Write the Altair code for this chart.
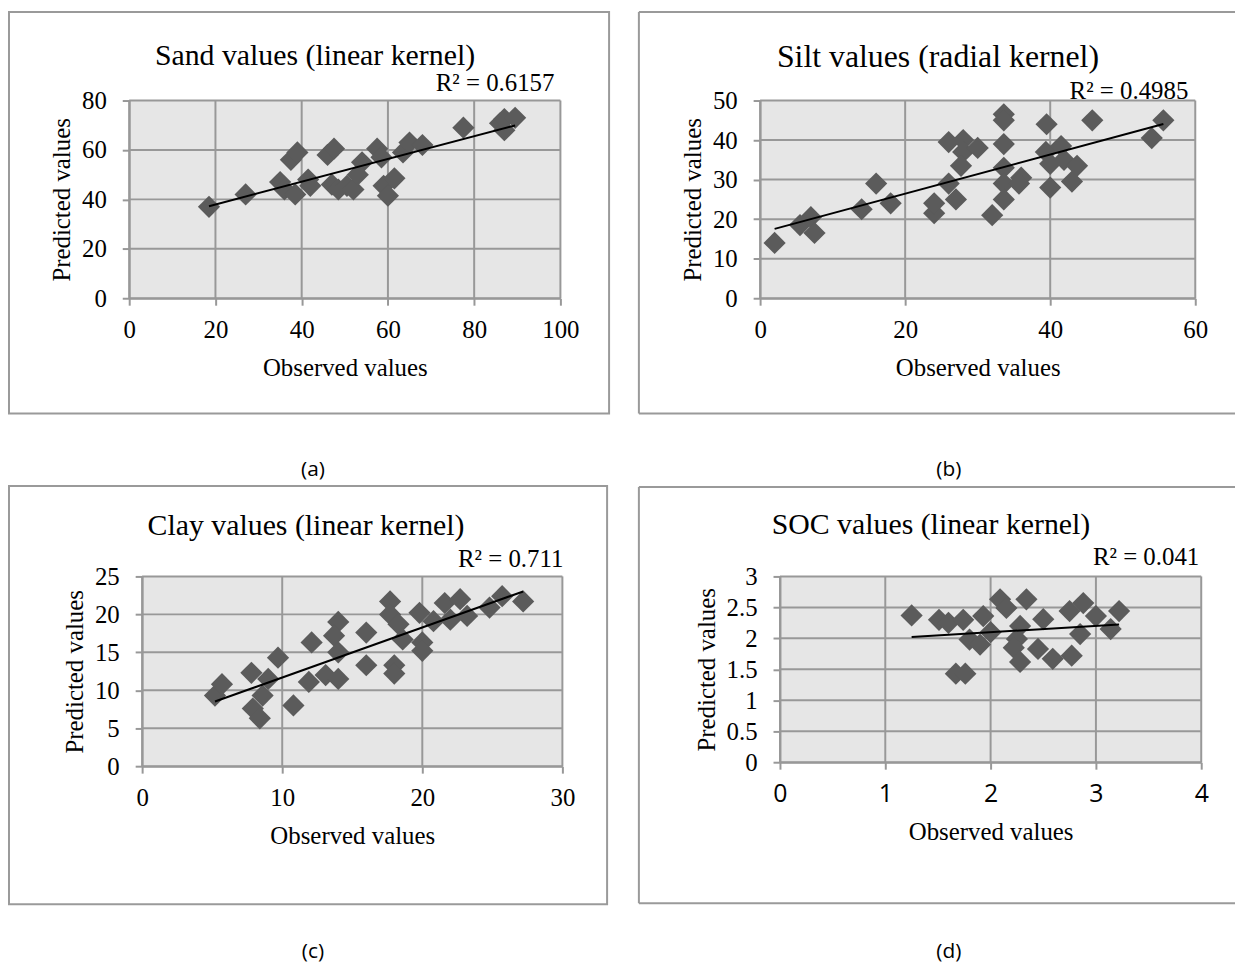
import altair as alt
import pandas as pd

# ---------------- data ----------------
sand_obs = [18.5, 27, 35, 36, 37.5, 39, 38.5, 41.5, 42, 46, 47.5, 47, 48.5, 50.5, 52, 54, 53,
            57.5, 58.5, 59, 60, 61.5, 63.5, 65, 68, 77.5, 86, 87, 87, 89.5]
sand_pred = [37, 42, 47, 44, 56, 59, 42, 48, 45.5, 58, 60.5, 46, 44, 45.5, 44, 55, 50,
             60.5, 57, 45.5, 41.5, 48.5, 59, 63, 62, 69, 70.8, 68, 72.5, 73]

silt_obs = [2, 5.5, 7, 7.5, 14, 16, 18, 24, 24, 26, 27, 26, 28, 28, 27.7, 30, 32,
            33.6, 33.6, 33.6, 33.6, 33.6, 33.6, 36, 35.7, 39.5, 40, 39.4, 40, 41.5, 41.9,
            43, 43.7, 45.8, 54, 55.6]
silt_pred = [14, 18.5, 20.5, 16.5, 22.5, 29, 24, 21.5, 24, 29, 25, 39.5, 40, 37, 33.5, 38, 21,
             46.5, 45, 39, 33, 29, 25, 30.5, 29, 44, 28, 37, 34, 38.5, 35,
             29.5, 33.5, 45, 40.5, 45]

clay_obs = [5.2, 5.7, 7.8, 9, 9.7, 8.6, 7.9, 8.4, 10.8, 11.9, 12.1, 13.1, 14, 14, 13.7, 14,
            16, 16, 17.7, 17.7, 18, 18, 18.3, 18.6, 19.8, 20, 20, 20.8, 21.6, 22, 22.7, 23.2,
            24.8, 25.7, 27.2]
clay_pred = [9.3, 10.8, 12.3, 11.5, 14.3, 9.3, 7.6, 6.3, 8, 11.1, 16.3, 12, 11.5, 19, 17.2, 15,
             17.6, 13.3, 21.7, 20, 13.3, 12.2, 18.7, 16.7, 20.2, 16.3, 15.2, 19.1, 21.5, 19.3, 22, 19.8,
             20.9, 22.4, 21.7]

soc_obs = [1.25, 1.51, 1.6, 1.74, 1.93, 1.8, 1.9, 2.0, 1.67, 1.76, 2.09, 2.15, 2.34, 2.28, 2.25,
           2.22, 2.28, 2.45, 2.5, 2.59, 2.77, 2.75, 2.88, 2.85, 3.0, 3.14, 3.22]
soc_pred = [2.37, 2.3, 2.25, 2.3, 2.36, 1.98, 1.9, 2.1, 1.43, 1.43, 2.63, 2.49, 2.63, 2.2, 1.99,
            1.85, 1.62, 1.83, 2.31, 1.67, 1.72, 2.44, 2.57, 2.07, 2.36, 2.15, 2.44]

# axis extents and tick steps per panel
x_max = [100, 60, 30, 4]
x_step = [20, 20, 10, 1]
y_max = [80, 50, 25, 3]
y_step = [20, 10, 5, 0.5]

titles = ["Sand values (linear kernel)", "Silt values (radial kernel)",
          "Clay values (linear kernel)", "SOC values (linear kernel)"]
r2_texts = ["R² = 0.6157", "R² = 0.4985", "R² = 0.711", "R² = 0.041"]
panel_labels = ["(a)", "(b)", "(c)", "(d)"]

SERIF = "Liberation Serif"
SANS = "Open Sans"
GRID = "#989898"
FRAME = "#9a9a9a"
PT = "#5b5b5b"
BG = "#e6e6e6"

W, H = 1228, 960      # whole canvas (page minus the 8px margin)
M = 8                 # page margin


def ticks(vmax, step):
    n = int(round(vmax / step))
    return [round(i * step, 6) for i in range(n + 1)]


def panel(i, obs, pred, plot, frame, closed, title_xy, title_size, r2_xy, label_xy,
          xlabel_font=SERIF):
    # plot = (left, top, right, bottom) of the plot area in page pixels
    L, T, R, B = [v - M for v in plot]
    xmax, ymax = x_max[i], y_max[i]
    xvals, yvals = ticks(xmax, x_step[i]), ticks(ymax, y_step[i])

    xs = alt.Scale(domain=[0, xmax], range=[L, R], nice=False, zero=True)
    ys = alt.Scale(domain=[0, ymax], range=[B, T], nice=False, zero=True)
    common = dict(labelColor="black", titleColor="black", titleFont=SERIF,
                  titleFontSize=25, titleFontWeight="normal", grid=False,
                  domainColor=GRID, domainWidth=2, tickColor=GRID, tickWidth=2,
                  tickSize=7, labelOverlap=False, labelFlush=False,
                  labelExpr="'' + datum.value", labelFontSize=25, zindex=1)
    xaxis = alt.Axis(orient="bottom", offset=B - H, values=xvals, title="Observed values",
                     labelFont=xlabel_font, labelPadding=13, titlePadding=13, **common)
    yaxis = alt.Axis(orient="left", offset=-L, values=yvals, title="Predicted values",
                     labelFont=SERIF, labelPadding=16, titlePadding=7, **common)

    def X(f):
        return alt.X(f, scale=xs, axis=xaxis)

    def Y(f):
        return alt.Y(f, scale=ys, axis=yaxis)

    df = pd.DataFrame({"x": obs, "y": pred})
    one = pd.DataFrame({"x0": [0], "x1": [xmax], "y0": [0], "y1": [ymax]})
    vgrid = pd.DataFrame({"v": xvals, "y0": 0, "y1": ymax})
    hgrid = pd.DataFrame({"v": yvals, "x0": 0, "x1": xmax})

    bg = alt.Chart(one).mark_rect(color=BG).encode(
        x=X("x0:Q"), x2="x1:Q", y=Y("y0:Q"), y2="y1:Q")
    gv = alt.Chart(vgrid).mark_rule(color=GRID, strokeWidth=2).encode(
        x=X("v:Q"), y=Y("y0:Q"), y2="y1:Q")
    gh = alt.Chart(hgrid).mark_rule(color=GRID, strokeWidth=2).encode(
        y=Y("v:Q"), x=X("x0:Q"), x2="x1:Q")
    points = alt.Chart(df).mark_point(shape="diamond", filled=True, size=500,
                                      color=PT, opacity=1).encode(x=X("x:Q"), y=Y("y:Q"))
    trend = alt.Chart(df).transform_regression("x", "y").mark_line(
        color="black", strokeWidth=2).encode(x=X("x:Q"), y=Y("y:Q"))

    fx1, fx2, fy1, fy2 = [v - M for v in frame]
    k = pd.DataFrame({"k": [0]})
    if closed:
        frames = [alt.Chart(k).mark_rect(fillOpacity=0, stroke=FRAME, strokeWidth=2).encode(
            x=alt.value(fx1), x2=alt.value(fx2), y=alt.value(fy1), y2=alt.value(fy2))]
    else:
        rule = alt.Chart(k).mark_rule(color=FRAME, strokeWidth=2)
        frames = [
            rule.encode(x=alt.value(fx1), x2=alt.value(fx2), y=alt.value(fy1)),
            rule.encode(x=alt.value(fx1), x2=alt.value(fx2), y=alt.value(fy2)),
            rule.encode(x=alt.value(fx1), y=alt.value(fy1), y2=alt.value(fy2)),
        ]

    t_title = alt.Chart(k).mark_text(font=SERIF, fontSize=title_size, color="black",
                                     align="center", baseline="middle").encode(
        x=alt.value(title_xy[0] - M), y=alt.value(title_xy[1] - M), text=alt.value(titles[i]))
    t_r2 = alt.Chart(k).mark_text(font=SERIF, fontSize=25, color="black",
                                  align="right", baseline="middle").encode(
        x=alt.value(r2_xy[0] - M), y=alt.value(r2_xy[1] - M), text=alt.value(r2_texts[i]))
    t_lab = alt.Chart(k).mark_text(font=SANS, fontSize=21, color="black",
                                   align="center", baseline="middle").encode(
        x=alt.value(label_xy[0] - M), y=alt.value(label_xy[1] - M),
        text=alt.value(panel_labels[i]))

    return alt.layer(*frames, bg, gv, gh, points, trend, t_title, t_r2, t_lab)


pa = panel(0, sand_obs, sand_pred, (130, 98, 564, 297), (9, 613, 9, 413), True,
           (317, 53), 30, (558, 80), (315, 470))
pb = panel(1, silt_obs, silt_pred, (765, 98, 1203, 297), (643, 1243, 9, 413), False,
           (944, 54), 32, (1196, 88), (955, 470))
pc = panel(2, clay_obs, clay_pred, (143, 577, 566, 768), (9, 611, 486, 907), True,
           (308, 526), 30, (567, 560), (315, 955))
pd_ = panel(3, soc_obs, soc_pred, (785, 577, 1209, 764), (643, 1243, 487, 906), False,
            (937, 525), 30, (1207, 557), (955, 955), xlabel_font=SANS)

chart = alt.layer(pa, pb, pc, pd_).resolve_scale(
    x="independent", y="independent").resolve_axis(
    x="independent", y="independent").properties(
    width=W, height=H, padding=0).configure_view(stroke=None, fill=None)

chart.save("out.html", embed_options={"renderer": "svg", "actions": False})
